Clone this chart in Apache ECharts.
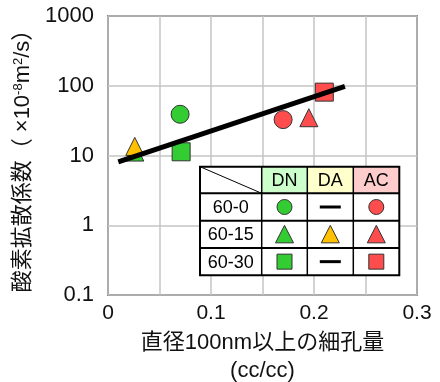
<!DOCTYPE html>
<html>
<head>
<meta charset="utf-8">
<script src="https://cdn.jsdelivr.net/npm/echarts@6/dist/echarts.min.js"></script>
<style>
  html, body { margin: 0; padding: 0; background: #fff; }
  #chart { width: 440px; height: 382px; }
</style>
</head>
<body>
<div id="chart"></div>
<script>
// Sample conditions (table rows) and materials (table columns)
const conditions = ['60-0', '60-15', '60-30'];
const materials = ['DN', 'DA', 'AC'];

// Pore volume of pores >= 100 nm (cc/cc) and oxygen diffusion coefficient (x10^-8 m2/s)
const dnPore = [0.070, 0.026, 0.071];
const dnDiff = [39, 11.2, 11.3];
const daPore = [null, 0.026, null];
const daDiff = [null, 13.5, null];
const acPore = [0.170, 0.195, 0.210];
const acDiff = [32.7, 34.8, 81];

// Trend line end points
const trendPore = [0.01, 0.23];
const trendDiff = [8.1, 98];

// Tick labels
const xTicks = [0, 0.1, 0.2, 0.3];
const yTicks = [0.1, 1, 10, 100, 1000];

const FONT = '"Liberation Sans", Arial, "Noto Sans CJK JP", sans-serif';
const shapes = ['circle', 'triangle', 'rect'];
const colors = { DN: '#33cc33', DA: '#ffc000', AC: '#ff4d4d' };
const headerFill = { DN: '#ccffcc', DA: '#ffffcc', AC: '#ffcccc' };

function scatterSeries(name, xs, ys) {
  const data = [];
  xs.forEach((x, i) => {
    if (x !== null && ys[i] !== null) {
      data.push({ value: [x, ys[i]], symbol: shapes[i] });
    }
  });
  return {
    name: name,
    type: 'scatter',
    data: data,
    symbolSize: 18,
    itemStyle: { color: colors[name], borderColor: '#333', borderWidth: 1, opacity: 1 },
    z: 3
  };
}

// Legend table geometry
const colX = [200, 261.7, 307.3, 353.3, 399.3];
const rowY = [166.7, 193.3, 220.7, 248, 275.3];
const tableEls = [];
tableEls.push({
  type: 'rect', shape: { x: colX[0], y: rowY[0], width: colX[4] - colX[0], height: rowY[4] - rowY[0] },
  style: { fill: '#fff' }, z: 100
});
materials.forEach((m, j) => {
  tableEls.push({
    type: 'rect', shape: { x: colX[j + 1], y: rowY[0], width: colX[j + 2] - colX[j + 1], height: rowY[1] - rowY[0] },
    style: { fill: headerFill[m] }, z: 100
  });
  tableEls.push({
    type: 'text', x: (colX[j + 1] + colX[j + 2]) / 2, y: (rowY[0] + rowY[1]) / 2 + 1,
    style: { text: m, font: '18px ' + FONT, fill: '#000', align: 'center', verticalAlign: 'middle' }, z: 102
  });
});
tableEls.push({
  type: 'line', shape: { x1: colX[0], y1: rowY[0], x2: colX[1], y2: rowY[1] },
  style: { stroke: '#000', lineWidth: 1 }, z: 101
});
conditions.forEach((c, i) => {
  const cy = (rowY[i + 1] + rowY[i + 2]) / 2;
  tableEls.push({
    type: 'text', x: (colX[0] + colX[1]) / 2, y: cy + 1,
    style: { text: c, font: '18px ' + FONT, fill: '#000', align: 'center', verticalAlign: 'middle' }, z: 102
  });
  const present = [dnPore[i] !== null, daPore[i] !== null, acPore[i] !== null];
  materials.forEach((m, j) => {
    const cx = (colX[j + 1] + colX[j + 2]) / 2;
    const st = { fill: colors[m], stroke: '#333', lineWidth: 1 };
    if (!present[j]) {
      tableEls.push({ type: 'line', shape: { x1: cx - 10.5, y1: cy, x2: cx + 10.5, y2: cy },
        style: { stroke: '#000', lineWidth: 3 }, z: 102 });
    } else if (shapes[i] === 'circle') {
      tableEls.push({ type: 'circle', shape: { cx: cx, cy: cy, r: 7.5 }, style: st, z: 102 });
    } else if (shapes[i] === 'triangle') {
      tableEls.push({ type: 'polygon', shape: { points: [[cx, cy - 9], [cx + 9, cy + 8.5], [cx - 9, cy + 8.5]] }, style: st, z: 102 });
    } else {
      tableEls.push({ type: 'rect', shape: { x: cx - 7.5, y: cy - 7.5, width: 15, height: 15 }, style: st, z: 102 });
    }
  });
});
// Grid lines of the table
for (let k = 1; k < 4; k++) {
  tableEls.push({ type: 'line', shape: { x1: colX[k], y1: rowY[0], x2: colX[k], y2: rowY[4] },
    style: { stroke: '#000', lineWidth: 1.5 }, z: 103 });
}
for (let k = 1; k < 4; k++) {
  tableEls.push({ type: 'line', shape: { x1: colX[0], y1: rowY[k], x2: colX[4], y2: rowY[k] },
    style: { stroke: '#000', lineWidth: 2 }, z: 103 });
}
tableEls.push({
  type: 'rect', shape: { x: colX[0], y: rowY[0], width: colX[4] - colX[0], height: rowY[4] - rowY[0] },
  style: { fill: 'none', stroke: '#000', lineWidth: 2 }, z: 104
});

const chart = echarts.init(document.getElementById('chart'), null, { renderer: 'canvas' });
chart.setOption({
  animation: false,
  backgroundColor: '#fff',
  textStyle: { fontFamily: FONT },
  grid: {
    left: 108, top: 16, width: 309, height: 279,
    containLabel: false, outerBoundsMode: 'none',
    show: true, borderColor: '#333', borderWidth: 1.5, backgroundColor: 'transparent'
  },
  xAxis: {
    type: 'value', min: 0, max: 0.3, interval: 0.05,
    axisLine: { show: false }, axisTick: { show: false },
    splitLine: { show: true, lineStyle: { color: '#c4c4c4', width: 1.5 } },
    axisLabel: {
      fontSize: 21, color: '#111', fontFamily: FONT, margin: 8,
      formatter: v => {
        const t = xTicks.find(t => Math.abs(t - v) < 1e-9);
        return t === undefined ? '' : String(t);
      }
    },
    name: '直径100nm以上の細孔量\n(cc/cc)',
    nameLocation: 'middle', nameGap: 34,
    nameTextStyle: { fontSize: 22, lineHeight: 28, color: '#111', fontFamily: FONT }
  },
  yAxis: {
    type: 'log', logBase: 10, min: 0.1, max: 1000,
    axisLine: { show: false }, axisTick: { show: false },
    splitLine: { show: true, lineStyle: { color: '#c4c4c4', width: 1.5 } },
    minorSplitLine: { show: false },
    axisLabel: {
      fontSize: 22, color: '#111', fontFamily: FONT, margin: 14,
      formatter: v => {
        const t = yTicks.find(t => Math.abs(t - v) / t < 1e-6);
        return t === undefined ? '' : String(t);
      }
    },
    name: '酸素拡散係数（ ×10{sup|-8}m{sup|2}/s）',
    nameLocation: 'middle', nameRotate: 90, nameGap: 68,
    nameTextStyle: {
      fontSize: 22, color: '#111', fontFamily: FONT,
      rich: { sup: { fontSize: 13, verticalAlign: 'top', color: '#111', fontFamily: FONT } }
    }
  },
  series: [
    scatterSeries('DN', dnPore, dnDiff),
    scatterSeries('DA', daPore, daDiff),
    scatterSeries('AC', acPore, acDiff),
    {
      name: 'trend', type: 'line',
      data: trendPore.map((x, i) => [x, trendDiff[i]]),
      showSymbol: false, symbol: 'none',
      lineStyle: { color: '#000', width: 5 },
      z: 5
    }
  ],
  graphic: { elements: tableEls }
});
</script>
</body>
</html>
